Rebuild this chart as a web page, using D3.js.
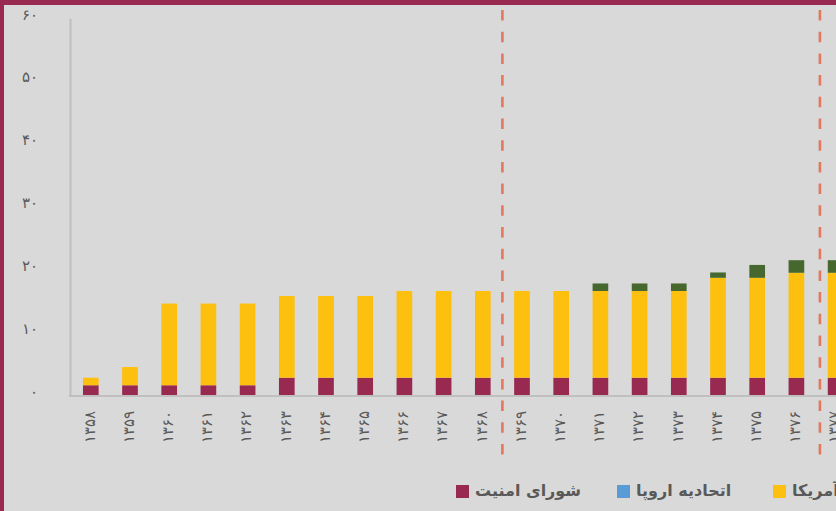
<!DOCTYPE html>
<html>
<head>
<meta charset="utf-8">
<script src="https://cdn.jsdelivr.net/npm/d3@7"></script>
<style>
  body { margin: 0; background: #d9d9d9; overflow: hidden; }
  #chart { position: relative; width: 836px; height: 511px; overflow: hidden; }
  svg { display: block; font-family: "DejaVu Sans", sans-serif; }
  .legend { position: absolute; left: 456px; top: 479px; height: 24px; width: 900px;
            font-family: "DejaVu Sans", sans-serif; font-weight: bold; font-size: 16px; color: #595959;
            line-height: 24px; }
  .legend .item { position: absolute; top: 0; display: flex; align-items: center; white-space: nowrap; }
  .legend .sw { width: 13px; height: 13px; margin-right: 6px; flex: none; }
</style>
</head>
<body>
<div id="chart"></div>
<script>
// data
var years = ["1358","1359","1360","1361","1362","1363","1364","1365","1366","1367",
             "1368","1369","1370","1371","1372","1373","1374","1375","1376","1377"];
var unsc  = [1.6,1.6,1.6,1.6,1.6,2.8,2.8,2.8,2.8,2.8,2.8,2.8,2.8,2.8,2.8,2.8,2.8,2.8,2.8,2.8];
var eu    = [0,0,0,0,0,0,0,0,0,0,0,0,0,0,0,0,0,0,0,0];
var usa   = [1.2,2.9,13,13,13,13,13,13,13.8,13.8,13.8,13.8,13.8,13.8,13.8,13.8,15.9,15.9,16.7,16.7];
var other = [0,0,0,0,0,0,0,0,0,0,0,0,0,1.2,1.2,1.2,0.85,2.05,2.0,2.0];
var yTicks = [0,10,20,30,40,50,60];
var dividers = [10.5, 18.6];   // period boundaries, in category index units

var seriesNames = ["شورای امنیت", "اتحادیه اروپا", "آمریکا", "سایر"];
var seriesKeys = ["unsc", "eu", "usa", "other"];
var colors = ["#982a52", "#5b9bd5", "#fec00f", "#46682f"];
var legendLeft = [0, 161, 317, 470];

var toFa = function(s) {
  return String(s).replace(/[0-9]/g, function(c) { return "۰۱۲۳۴۵۶۷۸۹"[+c]; });
};

var W = 836, H = 511;
var svg = d3.select("#chart").append("svg")
  .attr("width", W).attr("height", H);

svg.append("rect").attr("width", W).attr("height", H).attr("fill", "#d9d9d9");

var table = years.map(function(y, i) {
  return {year: y, unsc: unsc[i], eu: eu[i], usa: usa[i], other: other[i]};
});
var stacked = d3.stack().keys(seriesKeys)(table);

var step = 39.2, x0 = 71.2;
var x = d3.scaleBand()
  .domain(years)
  .range([x0, x0 + step * years.length])
  .paddingInner(0.6)
  .paddingOuter(0.3);

var y = d3.scaleLinear().domain([0, 60]).range([395.3, 18.3]);

var xi = d3.scaleLinear().domain([0, 1]).range([x0 + step / 2, x0 + step * 1.5]);

// y axis
var yAxis = svg.append("g")
  .attr("transform", "translate(70,0)")
  .call(d3.axisLeft(y).tickValues(yTicks).tickSize(0).tickSizeOuter(0).tickPadding(32).tickFormat(toFa));
yAxis.select(".domain").attr("stroke", "#bfbfbf").attr("stroke-width", 2);
yAxis.selectAll("text")
  .attr("fill", "#595959").attr("font-size", 15).attr("dy", "0.05em");

// bars
svg.append("g").selectAll("g")
  .data(stacked)
  .enter().append("g")
    .attr("fill", function(d, i) { return colors[i]; })
  .selectAll("rect")
  .data(function(d) { return d; })
  .enter().append("rect")
    .attr("x", function(d) { return x(d.data.year); })
    .attr("y", function(d) { return y(d[1]); })
    .attr("width", x.bandwidth())
    .attr("height", function(d) { return y(d[0]) - y(d[1]); });

// x axis
var xAxis = svg.append("g")
  .attr("transform", "translate(0,396)")
  .call(d3.axisBottom(x).tickSize(0).tickFormat(toFa));
xAxis.select(".domain").remove();
xAxis.append("line")
  .attr("x1", 69).attr("x2", W)
  .attr("stroke", "#bfbfbf").attr("stroke-width", 2);
xAxis.selectAll("text")
  .attr("transform", "rotate(-90)")
  .attr("x", -15).attr("y", -1).attr("dy", "0.32em")
  .attr("text-anchor", "end")
  .attr("fill", "#595959").attr("font-size", 15);

// dashed period lines
svg.append("g").selectAll("line")
  .data(dividers)
  .enter().append("line")
    .attr("x1", function(d) { return xi(d); })
    .attr("x2", function(d) { return xi(d); })
    .attr("y1", 10).attr("y2", 455)
    .attr("stroke", "#e3785f")
    .attr("stroke-width", 2.6)
    .attr("stroke-dasharray", "10.5,11.2");

// frame
svg.append("rect").attr("x", 0).attr("y", 0).attr("width", W).attr("height", 5).attr("fill", "#982a52");
svg.append("rect").attr("x", 0).attr("y", 0).attr("width", 4).attr("height", H).attr("fill", "#982a52");

// legend (html, so the shaped arabic text lays out right)
var items = d3.select("#chart").append("div").attr("class", "legend")
  .selectAll("div")
  .data(seriesNames)
  .enter().append("div").attr("class", "item")
    .style("left", function(d, i) { return legendLeft[i] + "px"; });
items.append("span").attr("class", "sw")
  .style("background", function(d, i) { return colors[i]; });
items.append("span").text(function(d) { return d; });
</script>
</body>
</html>
